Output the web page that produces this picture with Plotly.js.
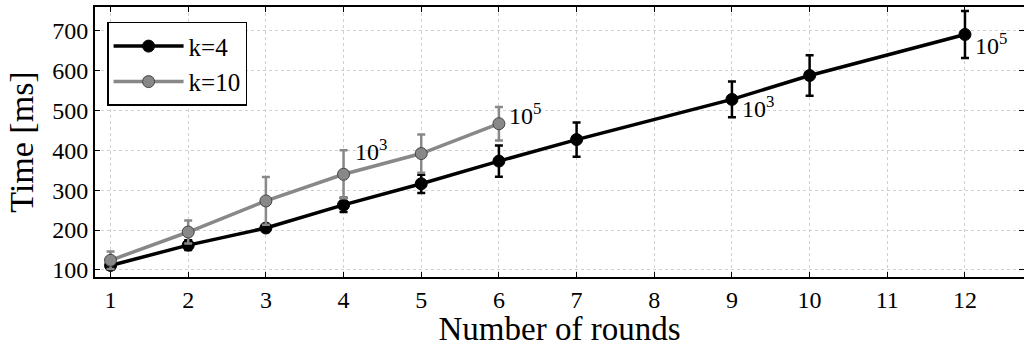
<!DOCTYPE html>
<html>
<head>
<meta charset="utf-8">
<script src="https://cdn.plot.ly/plotly-3.0.1.min.js"></script>
<style>html,body{margin:0;padding:0;background:#fff;}#chart{width:1024px;height:347px;}</style>
</head>
<body>
<div id="chart"></div>
<script>
// k=4 series
const roundsK4 = [1, 2, 3, 4, 5, 6, 7, 9, 10, 12];
const timeK4   = [111, 162, 205, 263, 316, 373, 427, 528, 588, 691];
const errK4    = [10, 12, 8, 18, 23, 39, 43, 45, 51, 59];
// k=10 series
const roundsK10 = [1, 2, 3, 4, 5, 6];
const timeK10   = [124, 195, 273, 340, 392, 467];
const errK10    = [22, 29, 60, 60, 48, 42];
// annotation labels
const annX = [4, 6, 9, 12];
const annY = [340, 467, 528, 691];
const annText = ['10<sup>3</sup>', '10<sup>5</sup>', '10<sup>3</sup>', '10<sup>5</sup>'];
const xTicks = [1,2,3,4,5,6,7,8,9,10,11,12];
const yTicks = [100,200,300,400,500,600,700];

const font = 'Liberation Serif';

const traces = [
  {
    x: roundsK4, y: timeK4, name: 'k=4', type: 'scatter', mode: 'lines+markers',
    line: {color: '#000', width: 3.5},
    marker: {color: '#000', size: 12, line: {color: '#000', width: 1}},
    error_y: {type: 'data', array: errK4, visible: true, color: '#000', thickness: 2.5, width: 4}
  },
  {
    x: roundsK10, y: timeK10, name: 'k=10', type: 'scatter', mode: 'lines+markers',
    line: {color: '#888', width: 3.5},
    marker: {color: '#888', size: 12, line: {color: '#444', width: 1}},
    error_y: {type: 'data', array: errK10, visible: true, color: '#888', thickness: 2.5, width: 4}
  }
];

const annShift = [[9, 24], [8, 10], [8, -8], [8, -10]];
const annotations = annX.map((x, i) => ({
  x: x, y: annY[i], text: annText[i], showarrow: false,
  xanchor: 'left', yanchor: 'middle',
  xshift: annShift[i][0], yshift: annShift[i][1],
  font: {family: font, size: 24, color: '#000'}
}));

const layout = {
  width: 1024, height: 347,
  margin: {l: 95, r: 0, t: 7, b: 70},
  paper_bgcolor: '#fff', plot_bgcolor: '#fff',
  font: {family: font, size: 24, color: '#000'},
  showlegend: true,
  legend: {
    x: 0.013, y: 0.945, xanchor: 'left', yanchor: 'top',
    bordercolor: '#000', borderwidth: 1.5, bgcolor: '#fff',
    font: {family: font, size: 25, color: '#000'},
    itemwidth: 70, tracegroupgap: 4
  },
  xaxis: {
    range: [0.8, 12.76], tickvals: xTicks, ticktext: xTicks.map(String),
    showline: true, linecolor: '#000', linewidth: 2, mirror: 'ticks',
    ticks: 'inside', ticklen: 5, tickwidth: 1, tickcolor: '#000',
    showgrid: true, gridcolor: '#d0d0d0', griddash: 'dot', gridwidth: 1,
    zeroline: false, automargin: false,
    tickfont: {family: font, size: 24, color: '#000'},
    title: {text: 'Number of rounds', font: {family: font, size: 33, color: '#000'}, standoff: 2}
  },
  yaxis: {
    range: [82, 760], tickvals: yTicks, ticktext: yTicks.map(String),
    showline: true, linecolor: '#000', linewidth: 2, mirror: 'ticks',
    ticks: 'inside', ticklen: 5, tickwidth: 1, tickcolor: '#000',
    showgrid: true, gridcolor: '#d0d0d0', griddash: 'dot', gridwidth: 1,
    zeroline: false, automargin: false,
    tickfont: {family: font, size: 24, color: '#000'},
    title: {text: 'Time [ms]', font: {family: font, size: 34, color: '#000'}, standoff: 8}
  },
  annotations: annotations
};

Plotly.newPlot('chart', traces, layout, {staticPlot: true, displayModeBar: false});
</script>
</body>
</html>
